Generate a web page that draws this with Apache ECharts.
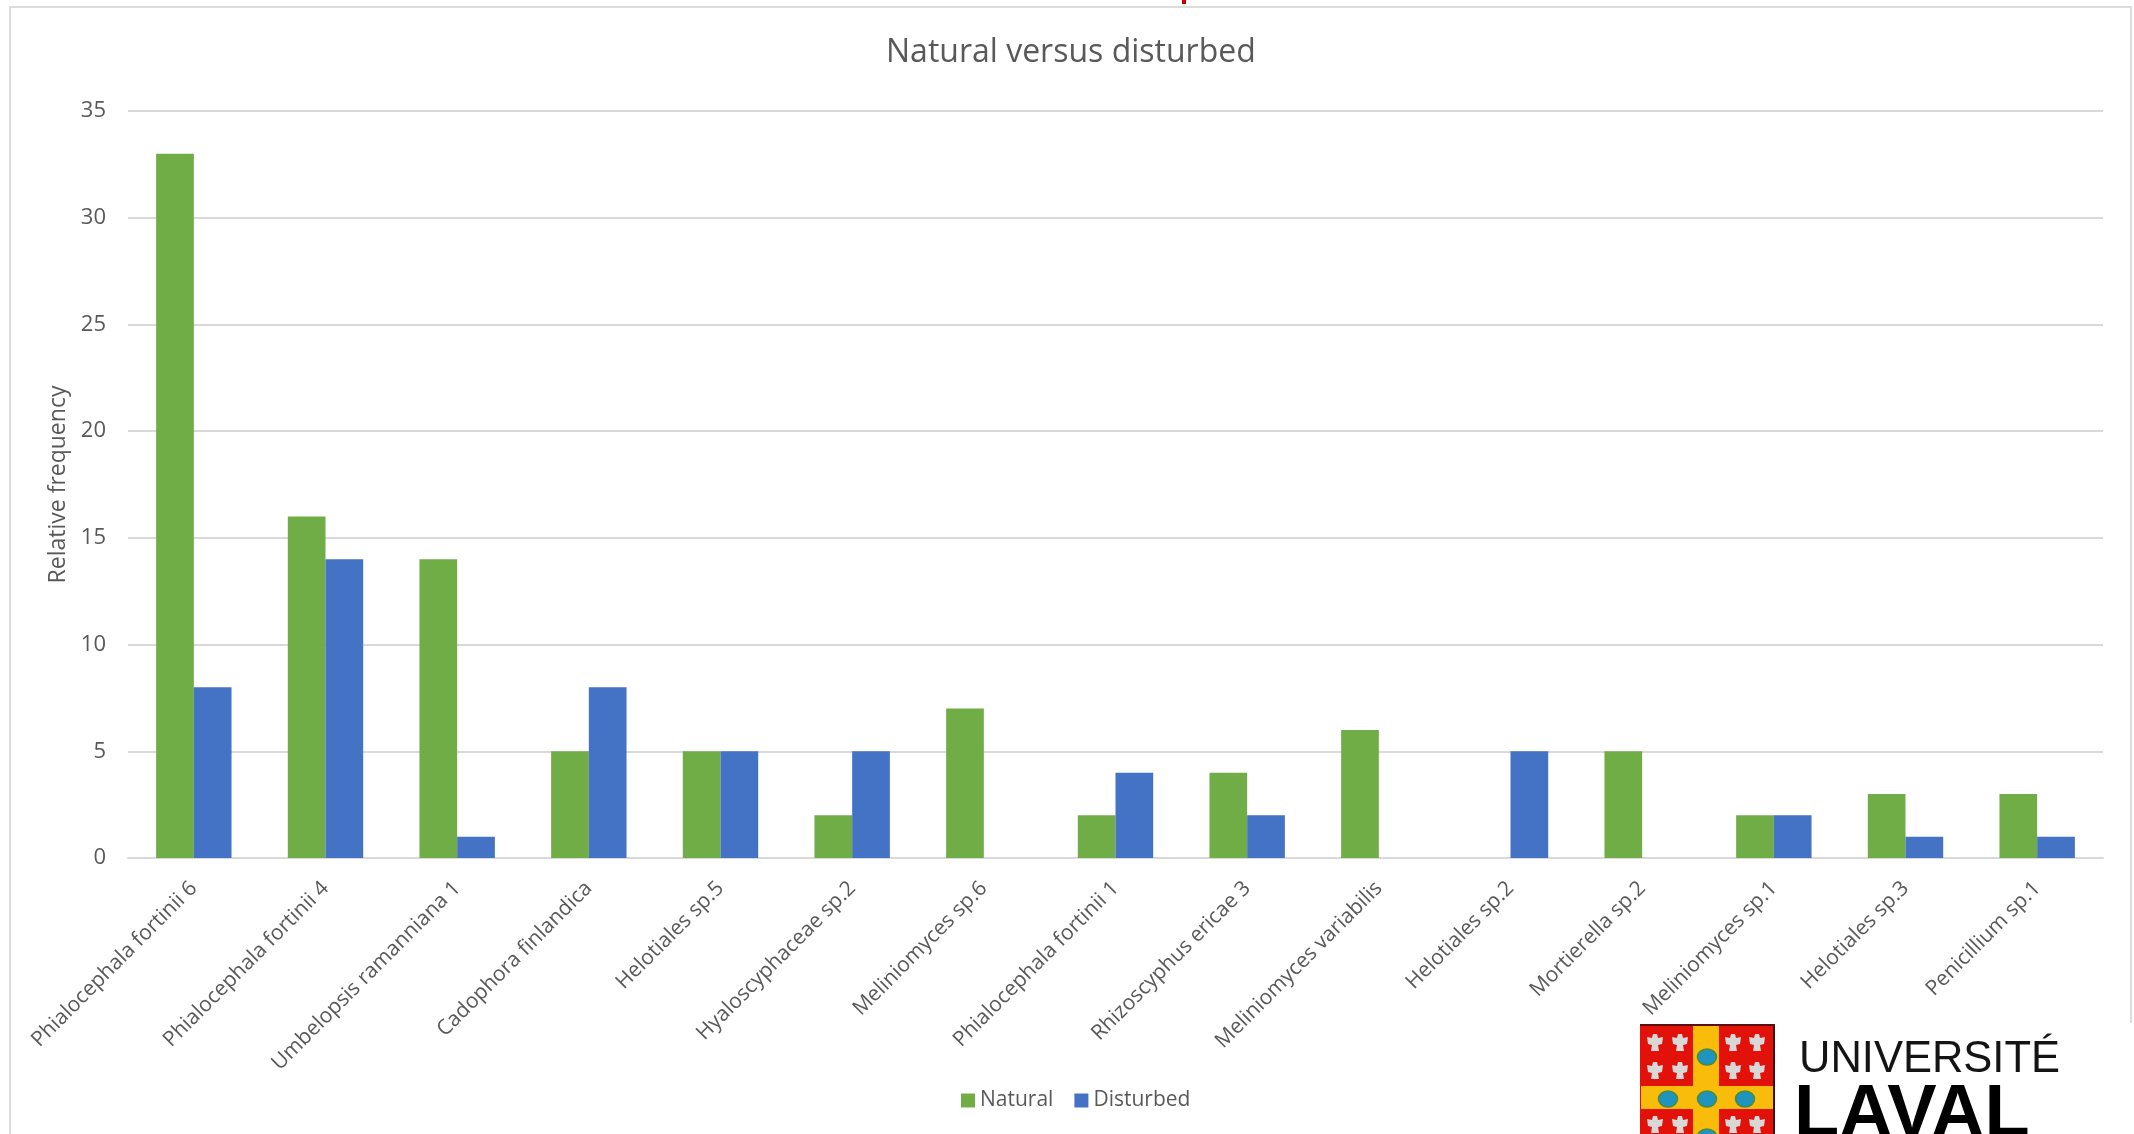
<!DOCTYPE html>
<html><head><meta charset="utf-8">
<style>html,body{margin:0;padding:0;background:#fff}#c{width:2134px;height:1134px}</style>
<script src="https://cdn.jsdelivr.net/npm/echarts@6/dist/echarts.min.js"></script>
</head><body><div id="c"></div>
<script>
const categories = ['Phialocephala fortinii 6','Phialocephala fortinii 4','Umbelopsis ramanniana 1','Cadophora finlandica','Helotiales sp.5','Hyaloscyphaceae sp.2','Meliniomyces sp.6','Phialocephala fortinii 1','Rhizoscyphus ericae 3','Meliniomyces variabilis','Helotiales sp.2','Mortierella sp.2','Meliniomyces sp.1','Helotiales sp.3','Penicillium sp.1'];
const natural = [33,16,14,5,5,2,7,2,4,6,0,5,2,3,3];
const disturbed = [8,14,1,8,5,5,0,4,2,0,5,0,2,1,1];
const FONT = '"Open Sans","Noto Sans",sans-serif';
const TXT = '#595959';
const GREEN = '#70AD47', BLUE = '#4472C4';

// University crest: quartered red field with gold cross, blue roundels and white birds
const crest = [];
crest.push({type:'rect',z:6,shape:{x:1640,y:1024,width:135,height:110},style:{fill:'#E2120B'}});
crest.push({type:'rect',z:6,shape:{x:1693,y:1024,width:26,height:110},style:{fill:'#F9BC0B'}});
crest.push({type:'rect',z:6,shape:{x:1641,y:1086,width:133,height:23},style:{fill:'#F9BC0B'}});
crest.push({type:'rect',z:7,shape:{x:1773,y:1024,width:2,height:110},style:{fill:'#3a1010'}});
crest.push({type:'rect',z:7,shape:{x:1640,y:1024,width:135,height:2},style:{fill:'#5a0f0f'}});
[[1707,1057],[1668,1099],[1707,1099],[1745,1099],[1707,1137]].forEach(p=>{
  crest.push({type:'ellipse',z:7,shape:{cx:p[0],cy:p[1],rx:9.5,ry:8},style:{fill:'#1E94BE',stroke:'#4f8a3a',lineWidth:1.5}});
});
[1655,1680,1733,1757].forEach(x=>{
  [1043,1071,1125].forEach(y=>{
    crest.push({type:'polygon',z:7,shape:{points:[[x-2,y-9],[x+2,y-9],[x+3,y-5],[x+8,y-6],[x+7,y+1],[x+3,y+2],[x+4,y+8],[x-4,y+8],[x-3,y+2],[x-7,y+1],[x-8,y-6],[x-3,y-5]]},style:{fill:'#DAD7D7'}});
  });
});

const chart = echarts.init(document.getElementById('c'),null,{renderer:'canvas'});
chart.setOption({
  animation:false,
  backgroundColor:'#fff',
  title:{text:'Natural versus disturbed',left:886,top:37,padding:0,itemGap:0,textStyle:{fontFamily:FONT,fontSize:32,fontWeight:'normal',color:TXT}},
  legend:{bottom:23,left:961,padding:0,itemWidth:14,itemHeight:14,itemGap:21,icon:'rect',
    textStyle:{fontFamily:FONT,fontSize:21,color:TXT,padding:[0,0,0,0]},
    data:['Natural','Disturbed']},
  grid:{left:128,right:31,top:111,bottom:276,containLabel:false},
  xAxis:{type:'category',data:categories,
    axisLine:{lineStyle:{color:'#D9D9D9',width:2}},axisTick:{show:false},
    axisLabel:{rotate:45,interval:0,margin:27,fontFamily:FONT,fontSize:21,color:TXT}},
  yAxis:{type:'value',min:0,max:35,interval:5,
    name:'Relative frequency',nameLocation:'middle',nameGap:57,nameRotate:90,
    nameTextStyle:{fontFamily:FONT,fontSize:23,color:TXT},
    axisLine:{show:false},axisTick:{show:false},
    axisLabel:{margin:22,fontFamily:FONT,fontSize:22,color:TXT,padding:[5,0,0,0]},
    splitLine:{lineStyle:{color:'#D9D9D9',width:2}}},
  series:[
    {name:'Natural',type:'bar',data:natural,barWidth:37.7,barGap:'0%',itemStyle:{color:GREEN}},
    {name:'Disturbed',type:'bar',data:disturbed,barWidth:37.7,barGap:'0%',itemStyle:{color:BLUE}}
  ],
  graphic:{elements:[
    {type:'rect',z:-1,shape:{x:10,y:7,width:2121,height:1140},style:{fill:'none',stroke:'#DDDDDD',lineWidth:2}},
    {type:'rect',z:-1,shape:{x:1182,y:0,width:4,height:4},style:{fill:'#C00000'}},
    {type:'rect',z:5,shape:{x:1639,y:1023,width:495,height:111},style:{fill:'#fff'}},
    {type:'group',children:crest},
    {type:'text',z:6,style:{x:1799,y:1060,text:'UNIVERSITÉ',fill:'#141414',font:'43.5px "Liberation Sans",sans-serif',verticalAlign:'middle'}},
    {type:'text',z:6,style:{x:1794,y:1116,text:'LAVAL',fill:'#000',font:'bold 74px "Liberation Sans",sans-serif',verticalAlign:'middle'}}
  ]}
});
</script></body></html>
